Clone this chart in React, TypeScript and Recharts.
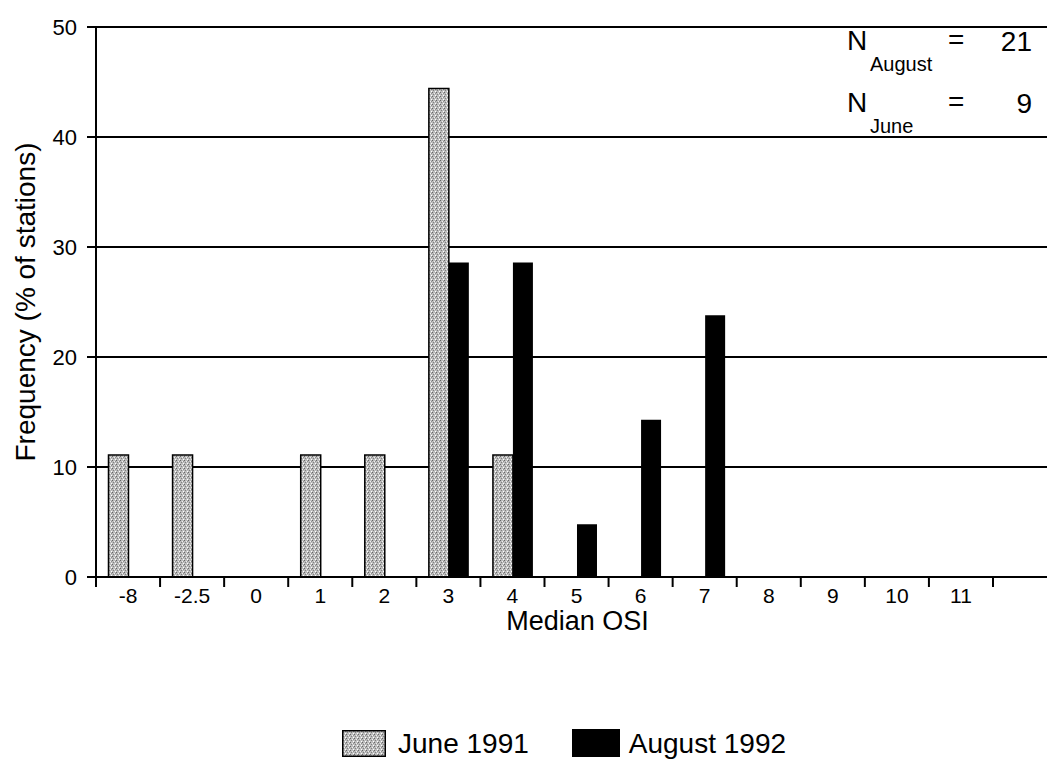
import React from 'react';
import { BarChart, Bar, XAxis, YAxis, CartesianGrid, Legend } from 'recharts';

const categories = ['-8', '-2.5', '0', '1', '2', '3', '4', '5', '6', '7', '8', '9', '10', '11'];
const june1991 = [11.1, 11.1, 0, 11.1, 11.1, 44.4, 11.1, 0, 0, 0, 0, 0, 0, 0];
const august1992 = [0, 0, 0, 0, 0, 28.6, 28.6, 4.8, 14.3, 23.8, 0, 0, 0, 0];
const yTicks = [0, 10, 20, 30, 40, 50];
const seriesNames = ['June 1991', 'August 1992'];
const nLabels = [
  { name: 'August', value: '21' },
  { name: 'June', value: '9' },
];

const data = categories.map((c, i) => ({ cat: c, june: june1991[i], august: august1992[i] }));

const W = 1047;
const H = 765;
const LEFT = 96;
const PAD_R = 54;
const TOP = 27;
const FONT = '"Liberation Sans", Arial, sans-serif';
const BW = (W - LEFT - PAD_R) / categories.length;

const XTick = (props: any) => {
  const { x, y, payload, index } = props;
  const half = payload && payload.offset ? payload.offset : BW / 2;
  return (
    <g>
      <line x1={x - half} x2={x - half} y1={y} y2={y + 10} stroke="#000" strokeWidth={2} />
      {index === categories.length - 1 && (
        <line x1={x + half} x2={x + half} y1={y} y2={y + 10} stroke="#000" strokeWidth={2} />
      )}
      <text x={x} y={y + 26} textAnchor="middle" fontSize={21} fontFamily={FONT} fill="#000">
        {payload.value}
      </text>
    </g>
  );
};

const LegendContent = () => (
  <div style={{ height: 60, position: 'relative', fontFamily: FONT, fontSize: 28, color: '#000' }}>
    <div style={{ position: 'absolute', left: 342, top: 24, display: 'flex', alignItems: 'center' }}>
      <svg width={44} height={27} style={{ display: 'block' }}>
        <rect x={0.75} y={0.75} width={42.5} height={25.5} fill="url(#junePat)" stroke="#000" strokeWidth={1.5} />
      </svg>
      <span style={{ marginLeft: 12, lineHeight: '27px' }}>{seriesNames[0]}</span>
      <svg width={48} height={28} style={{ display: 'block', marginLeft: 43 }}>
        <rect x={0} y={0} width={48} height={28} fill="#000" />
      </svg>
      <span style={{ marginLeft: 9, lineHeight: '27px' }}>{seriesNames[1]}</span>
    </div>
  </div>
);

export default function App() {
  return (
    <div style={{ position: 'absolute', left: 0, top: 0, width: W, height: H, background: '#fff' }}>
      <BarChart
        width={W}
        height={H}
        data={data}
        margin={{ top: TOP, right: 0, left: 0, bottom: 0 }}
        barCategoryGap="19.5%"
        barGap={0}
      >
        <defs>
          <pattern id="junePat" width="4" height="4" patternUnits="userSpaceOnUse">
            <rect width="4" height="4" fill="#bcbcbc" />
            <rect x="0" y="0" width="1" height="1" fill="#666666" />
            <rect x="2" y="1" width="1" height="1" fill="#f0f0f0" />
            <rect x="1" y="2" width="1" height="1" fill="#808080" />
            <rect x="3" y="3" width="1" height="1" fill="#ffffff" />
            <rect x="3" y="1" width="1" height="1" fill="#919191" />
          </pattern>
        </defs>
        <CartesianGrid horizontal vertical={false} stroke="#000" strokeWidth={2} />
        <XAxis
          dataKey="cat"
          type="category"
          interval={0}
          padding={{ left: 0, right: PAD_R }}
          height={128}
          tickSize={0}
          tickMargin={0}
          tickLine={false}
          axisLine={{ stroke: '#000', strokeWidth: 2 }}
          tick={<XTick />}
          label={{
            content: (p: any) => {
              const vb = p.viewBox || {};
              return (
                <text
                  x={vb.x + vb.width / 2 + 6}
                  y={vb.y + 53}
                  textAnchor="middle"
                  fontSize={27}
                  fontFamily={FONT}
                  fill="#000"
                >
                  Median OSI
                </text>
              );
            },
          }}
        />
        <YAxis
          width={LEFT}
          domain={[0, 50]}
          ticks={yTicks}
          interval={0}
          tickSize={9}
          tickMargin={10}
          axisLine={{ stroke: '#000', strokeWidth: 2 }}
          tickLine={{ stroke: '#000', strokeWidth: 2 }}
          tick={{ fontSize: 22, fontFamily: FONT, fill: '#000' }}
          label={{
            content: (p: any) => {
              const vb = p.viewBox || {};
              const cx = 25;
              const cy = vb.y + vb.height / 2;
              return (
                <text
                  x={cx}
                  y={cy}
                  transform={`rotate(-90 ${cx} ${cy})`}
                  textAnchor="middle"
                  dominantBaseline="central"
                  fontSize={28}
                  fontFamily={FONT}
                  fill="#000"
                >
                  Frequency (% of stations)
                </text>
              );
            },
          }}
        />
        <Legend verticalAlign="bottom" height={60} content={<LegendContent />} />
        <Bar dataKey="june" name={seriesNames[0]} fill="url(#junePat)" stroke="#000" strokeWidth={1.5} isAnimationActive={false} />
        <Bar dataKey="august" name={seriesNames[1]} fill="#000" isAnimationActive={false} />
      </BarChart>
      <svg
        width={W}
        height={H}
        style={{ position: 'absolute', left: 0, top: 0, pointerEvents: 'none' }}
      >
        {nLabels.map((n, i) => {
          const base = 50 + i * 62;
          return (
            <g key={n.name} fontFamily={FONT} fill="#000">
              <text x={847} y={base} fontSize={28}>N</text>
              <text x={870} y={base + 21} fontSize={20}>{n.name}</text>
              <text x={948} y={base - 1} fontSize={28}>=</text>
              <text x={1032} y={base + 1} fontSize={28} textAnchor="end">{n.value}</text>
            </g>
          );
        })}
      </svg>
    </div>
  );
}
